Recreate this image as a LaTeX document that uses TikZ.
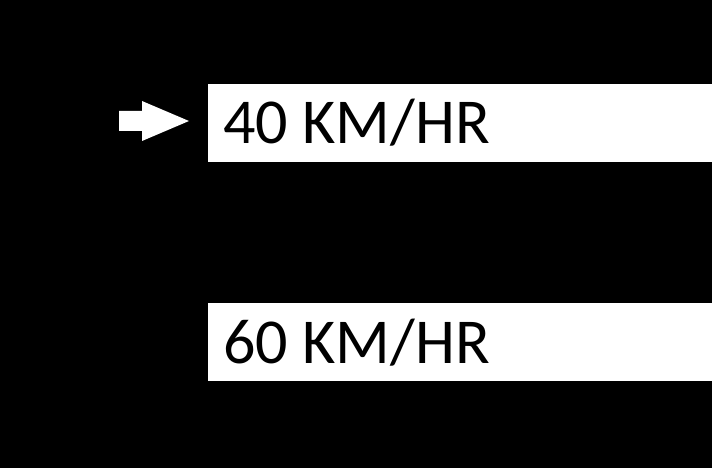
\documentclass[tikz,border=0pt]{standalone}
\usepackage{fontspec}
\setmainfont{Carlito}
\begin{document}
\begin{tikzpicture}[x=1pt,y=-1pt,
  box/.style={fill=white,draw=none},
  lbl/.style={anchor=base west,inner sep=0pt,font=\fontsize{64}{64}\selectfont,text=black}]
\fill[black] (0,0) rectangle (712,468);
\useasboundingbox (0,0) rectangle (712,468);
\fill[box] (208,84) rectangle (712,161.5);
\fill[box] (208,303) rectangle (712,380.5);
\node[lbl] (a) at (223,144) {40 KM/HR};
\node[lbl] (b) at (223,363) {60 KM/HR};
\fill[white] (119,111) -- (142,111) -- (142,101) -- (189,121) -- (142,141) -- (142,131) -- (119,131) -- cycle;
\end{tikzpicture}
\end{document}
